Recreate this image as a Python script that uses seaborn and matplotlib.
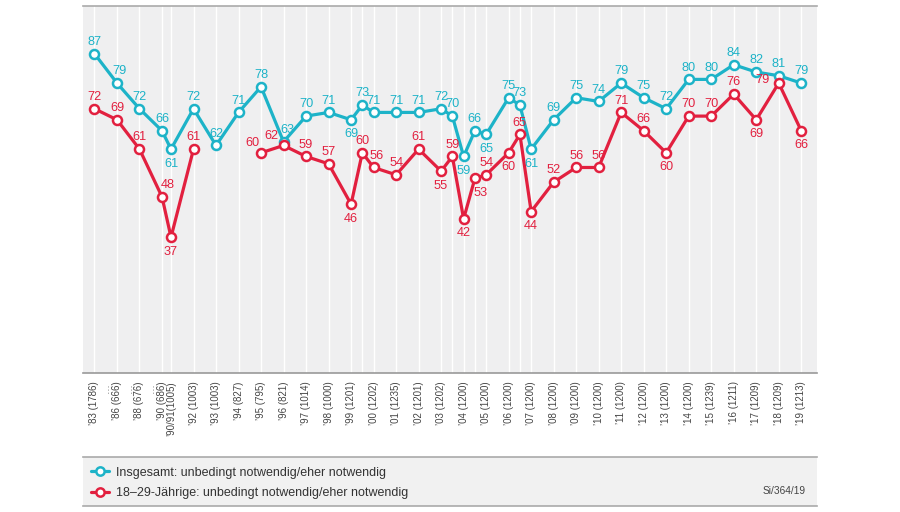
import numpy as np
import pandas as pd
import seaborn as sns
import matplotlib.pyplot as plt
from matplotlib.lines import Line2D

# survey waves: position on the time axis and tick label ("" = second wave in the same year)
x_pos = [0, 1, 2, 3, 3.4, 4.4, 5.4, 6.4, 7.4, 8.4, 9.4, 10.4, 11.4, 11.9, 12.4, 13.4,
         14.4, 15.4, 15.9, 16.4, 16.9, 17.4, 18.4, 18.9, 19.4, 20.4, 21.4, 22.4, 23.4,
         24.4, 25.4, 26.4, 27.4, 28.4, 29.4, 30.4, 31.4]
tick_labels = ["’83 (1786)", "’86 (666)", "’88 (676)", "’90 (686)", "’90/91(1005)",
               "’92 (1003)", "’93 (1003)", "’94 (827)", "’95 (795)", "’96 (821)",
               "’97 (1014)", "’98 (1000)", "’99 (1201)", "", "’00 (1202)", "’01 (1235)",
               "’02 (1201)", "’03 (1202)", "", "’04 (1200)", "", "’05 (1200)",
               "’06 (1200)", "", "’07 (1200)", "’08 (1200)", "’09 (1200)", "’10 (1200)",
               "’11 (1200)", "’12 (1200)", "’13 (1200)", "’14 (1200)", "’15 (1239)",
               "’16 (1211)", "’17 (1209)", "’18 (1209)", "’19 (1213)"]

insgesamt = [87, 79, 72, 66, 61, 72, 62, 71, 78, 63, 70, 71, 69, 73, 71, 71, 71, 72, 70,
             59, 66, 65, 75, 73, 61, 69, 75, 74, 79, 75, 72, 80, 80, 84, 82, 81, 79]
junge = [72, 69, 61, 48, 37, 61, np.nan, np.nan, 60, 62, 59, 57, 46, 60, 56, 54, 61, 55, 59,
         42, 53, 54, 60, 65, 44, 52, 56, 56, 71, 66, 60, 70, 70, 76, 69, 79, 66]

label_all = "Insgesamt: unbedingt notwendig/eher notwendig"
label_young = "18–29-Jährige: unbedingt notwendig/eher notwendig"
source = "Si/364/19"

BLUE = "#1db3c8"
RED = "#e2203f"

# where the value labels go (points offsets), default is just above the marker
ABOVE = (0, 8.5)
BELOW = (0, -10.5)
blue_offsets = {4: BELOW, 12: BELOW, 19: BELOW, 21: BELOW, 24: BELOW, 1: (2, 8.5), 9: (3, 8.5)}
red_offsets = {4: BELOW, 12: BELOW, 17: BELOW, 19: BELOW, 20: (4, -10.5), 22: BELOW,
               24: BELOW, 30: BELOW, 34: BELOW, 36: BELOW,
               3: (4, 8.5), 8: (-6, 7), 9: (-9, 7), 35: (-12, 2), 14: (2, 8.5)}

sns.set_style("white")
plt.rcParams["font.family"] = ["Liberation Sans", "DejaVu Sans"]

df_all = pd.DataFrame({"pos": x_pos, "wert": insgesamt})
df_young = pd.DataFrame({"pos": x_pos, "wert": junge})
df_young["segment"] = df_young["wert"].isna().cumsum()
df_young = df_young.dropna()

fig = plt.figure(figsize=(9, 5.12), dpi=100)
ax = fig.add_axes([83 / 900, 139 / 512, 734 / 900, 367 / 512])
ax.set_facecolor("#efeff0")

line_kw = dict(marker="o", markersize=6.5, markerfacecolor="white", markeredgewidth=1.8,
               linewidth=2.3, estimator=None, sort=False, legend=False, ax=ax)
sns.lineplot(data=df_all, x="pos", y="wert", color=BLUE, markeredgecolor=BLUE, **line_kw)
sns.lineplot(data=df_young, x="pos", y="wert", units="segment", color=RED,
             markeredgecolor=RED, **line_kw)

for series, color, offsets in [(insgesamt, BLUE, blue_offsets), (junge, RED, red_offsets)]:
    for i, (xv, yv) in enumerate(zip(x_pos, series)):
        if np.isnan(yv):
            continue
        ax.annotate(f"{yv:.0f}", (xv, yv), xytext=offsets.get(i, ABOVE),
                    textcoords="offset points", ha="center", va="center",
                    fontsize=9.2, color=color)

ax.set_xlim(-0.51, 32.1)
ax.set_ylim(0, 100)
ax.set_yticks([])
ax.set_xticks(x_pos)
ax.set_xticklabels(tick_labels, rotation=90, fontsize=7, color="#444444")
ax.tick_params(axis="x", length=4, width=0.8, color="#999999", pad=2, direction="out")
ax.grid(axis="x", color="white", linewidth=1.0)
ax.grid(axis="y", visible=False)
ax.set_xlabel("")
ax.set_ylabel("")
for side in ["left", "right"]:
    ax.spines[side].set_visible(False)
ax.spines["top"].set_color("#aaaaaa")
ax.spines["top"].set_linewidth(1.2)
ax.spines["bottom"].set_color("#999999")
ax.spines["bottom"].set_linewidth(1.2)

# vertical dots marking the gaps between the early waves
for i in range(3):
    mid = (x_pos[i] + x_pos[i + 1]) / 2
    ax.annotate("…", (mid, 0), xycoords=("data", "axes fraction"), xytext=(0, -11),
                textcoords="offset points", rotation=90, ha="center", va="center",
                fontsize=7, color="#555555")

# legend strip below the chart
lax = fig.add_axes([83 / 900, 6 / 512, 734 / 900, 49 / 512])
lax.set_facecolor("#f1f1f1")
lax.set_xticks([])
lax.set_yticks([])
for side in ["left", "right"]:
    lax.spines[side].set_visible(False)
for side in ["top", "bottom"]:
    lax.spines[side].set_color("#aaaaaa")
    lax.spines[side].set_linewidth(1.2)

handles = [Line2D([], [], color=c, marker="o", markersize=6, markerfacecolor="white",
                  markeredgecolor=c, markeredgewidth=1.8, linewidth=2.3) for c in (BLUE, RED)]
leg = lax.legend(handles, [label_all, label_young], loc="center left",
                 bbox_to_anchor=(0.0, 0.47), frameon=False, fontsize=9, handlelength=1.5,
                 handletextpad=0.5, labelspacing=0.7, borderaxespad=0.2)
for t in leg.get_texts():
    t.set_color("#333333")
lax.text(0.985, 0.3, source, transform=lax.transAxes, ha="right", va="center",
         fontsize=7.3, color="#444444")

fig.savefig("out.png", dpi=100)
